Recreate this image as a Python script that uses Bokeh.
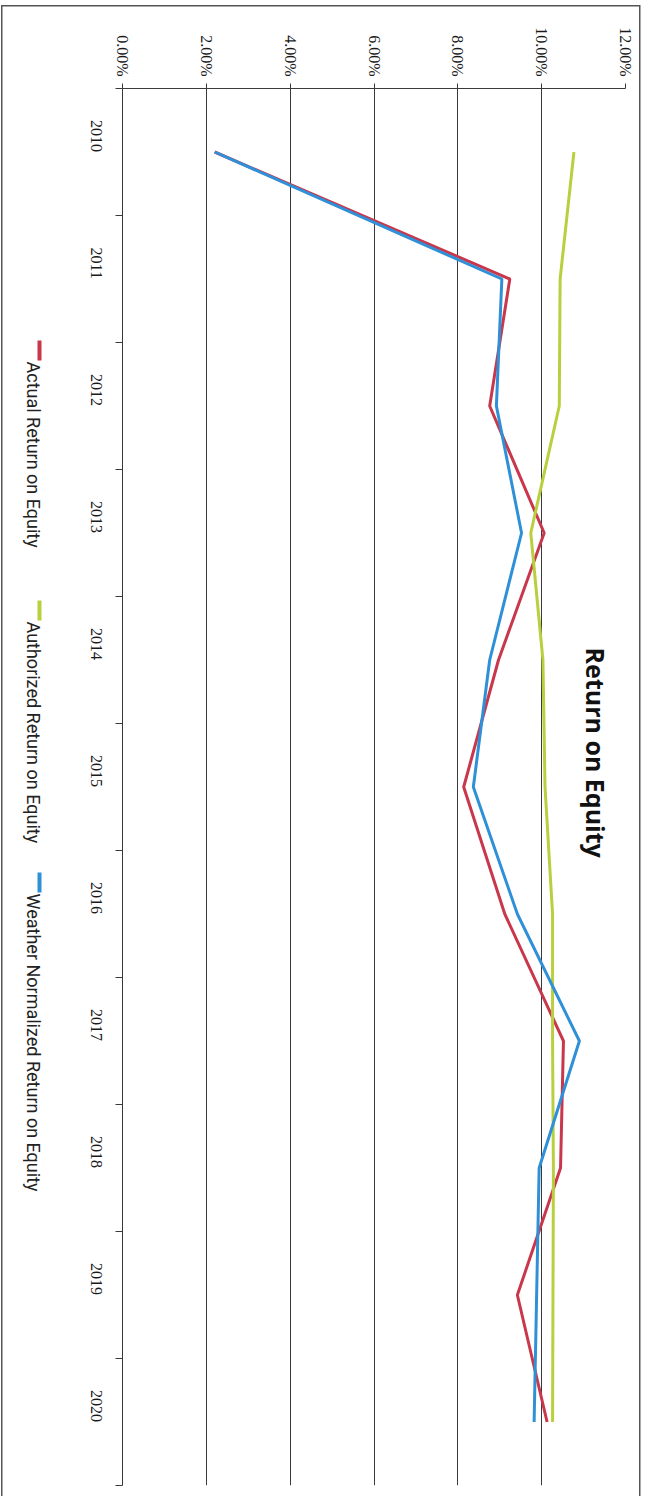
import math
from bokeh.plotting import figure
from bokeh.layouts import row
from bokeh.models import Range1d, FixedTicker, NumeralTickFormatter, Label
from bokeh.core.properties import value
from bokeh.embed import file_html
from bokeh.resources import INLINE

# ---- data ----
years = [2010, 2011, 2012, 2013, 2014, 2015, 2016, 2017, 2018, 2019, 2020]
actual_roe = [0.0220, 0.0924, 0.0876, 0.1006, 0.0897, 0.0814, 0.0912, 0.1052, 0.1045, 0.0942, 0.1013]
authorized_roe = [0.1077, 0.1044, 0.1042, 0.0974, 0.1003, 0.1008, 0.1026, 0.1026, 0.1028, 0.1027, 0.1026]
weather_roe = [0.0220, 0.0905, 0.0892, 0.0952, 0.0876, 0.0837, 0.0942, 0.1090, 0.0994, 0.0988, 0.0982]
value_ticks = [0.0, 0.02, 0.04, 0.06, 0.08, 0.10, 0.12]
series_names = ["Actual Return on Equity", "Authorized Return on Equity",
                "Weather Normalized Return on Equity"]
title_text = "Return on Equity"

RED = "#c8374b"
GREEN = "#b9cf3d"
BLUE = "#2f90d8"
GRID = "#3a3a3a"
LINE_COLORS = [RED, GREEN, BLUE]

W, H = 648, 1496
LEG_W = 60
FRAME_TOP, FRAME_BOTTOM = 88, 1485
L, R, T, B = 122 - LEG_W, 23, FRAME_TOP, H - FRAME_BOTTOM

# ---------------- main chart ----------------
p = figure(width=W - LEG_W, height=H, output_backend="svg", toolbar_location=None,
           x_range=Range1d(0, 0.12),
           y_range=Range1d(years[-1] + 0.5, years[0] - 0.5),
           x_axis_location="above",
           min_border_left=L, min_border_right=R, min_border_top=T, min_border_bottom=B)
p.outline_line_color = None
p.background_fill_color = None
p.border_fill_color = None

xa = p.xaxis[0]
xa.ticker = FixedTicker(ticks=value_ticks)
xa.formatter = NumeralTickFormatter(format="0.00%")
xa.major_label_orientation = -math.pi / 2
xa.major_tick_out = 5
xa.major_tick_in = 0
xa.minor_tick_out = 0
xa.minor_tick_in = 0
xa.major_label_standoff = 7
xa.axis_line_color = GRID
xa.major_tick_line_color = GRID
xa.major_label_text_font = "Liberation Serif"
xa.major_label_text_font_size = "16px"
xa.major_label_text_color = "#1a1a1a"

ya = p.yaxis[0]
ya.ticker = FixedTicker(ticks=years, minor_ticks=[y - 0.5 for y in years] + [years[-1] + 0.5])
ya.major_label_overrides = {y: str(y) for y in years}
ya.major_label_orientation = -math.pi / 2
ya.major_tick_out = 0
ya.major_tick_in = 0
ya.minor_tick_out = 7
ya.minor_tick_in = 0
ya.minor_tick_line_color = GRID
ya.axis_line_color = GRID
ya.major_label_standoff = 19
ya.major_label_text_font = "Liberation Serif"
ya.major_label_text_font_size = "16px"
ya.major_label_text_color = "#1a1a1a"

p.xgrid.ticker = FixedTicker(ticks=value_ticks)
p.xgrid.grid_line_color = GRID
p.xgrid.grid_line_width = 1
p.ygrid.visible = False

for vals, col in zip([actual_roe, authorized_roe, weather_roe], LINE_COLORS):
    p.line(vals, years, line_color=col, line_width=3)

p.add_layout(Label(x=0.1129, y=2014.73, text=title_text, angle=-math.pi / 2,
                   text_align="center", text_baseline="middle",
                   text_font="Open Sans", text_font_size="25px",
                   text_font_style="bold", text_color="#111111"))

# ---------------- rotated legend (left strip), in page pixels ----------------
lg = figure(width=LEG_W, height=H, output_backend="svg", toolbar_location=None,
            x_range=Range1d(0, LEG_W), y_range=Range1d(FRAME_BOTTOM, FRAME_TOP),
            min_border_left=0, min_border_right=0,
            min_border_top=T, min_border_bottom=B)
lg.axis.visible = False
lg.grid.visible = False
lg.outline_line_color = None
lg.background_fill_color = None
lg.border_fill_color = None

marker_top = [340, 600, 872]
marker_len = 20
text_x = 33
marker_x = 39
lg.segment(x0=[marker_x] * 3, y0=marker_top, x1=[marker_x] * 3,
           y1=[m + marker_len for m in marker_top], line_color=LINE_COLORS, line_width=4)
lg.text(x=[text_x] * 3, y=[m + marker_len + 1 for m in marker_top], text=series_names,
        angle=-math.pi / 2, text_align="left", text_baseline="middle",
        text_font=value("Roboto"), text_font_size="18px", text_color="#222222")

border_css = ("linear-gradient(#555,#555) 1px 5px / 1.5px 1491px no-repeat, "
              "linear-gradient(#555,#555) 1px 5px / 639px 1.5px no-repeat, "
              "linear-gradient(#555,#555) 639px 5px / 1.5px 1491px no-repeat, #ffffff")
layout = row(lg, p, styles={"background": border_css})

open("out.html", "w").write(file_html(layout, INLINE))
